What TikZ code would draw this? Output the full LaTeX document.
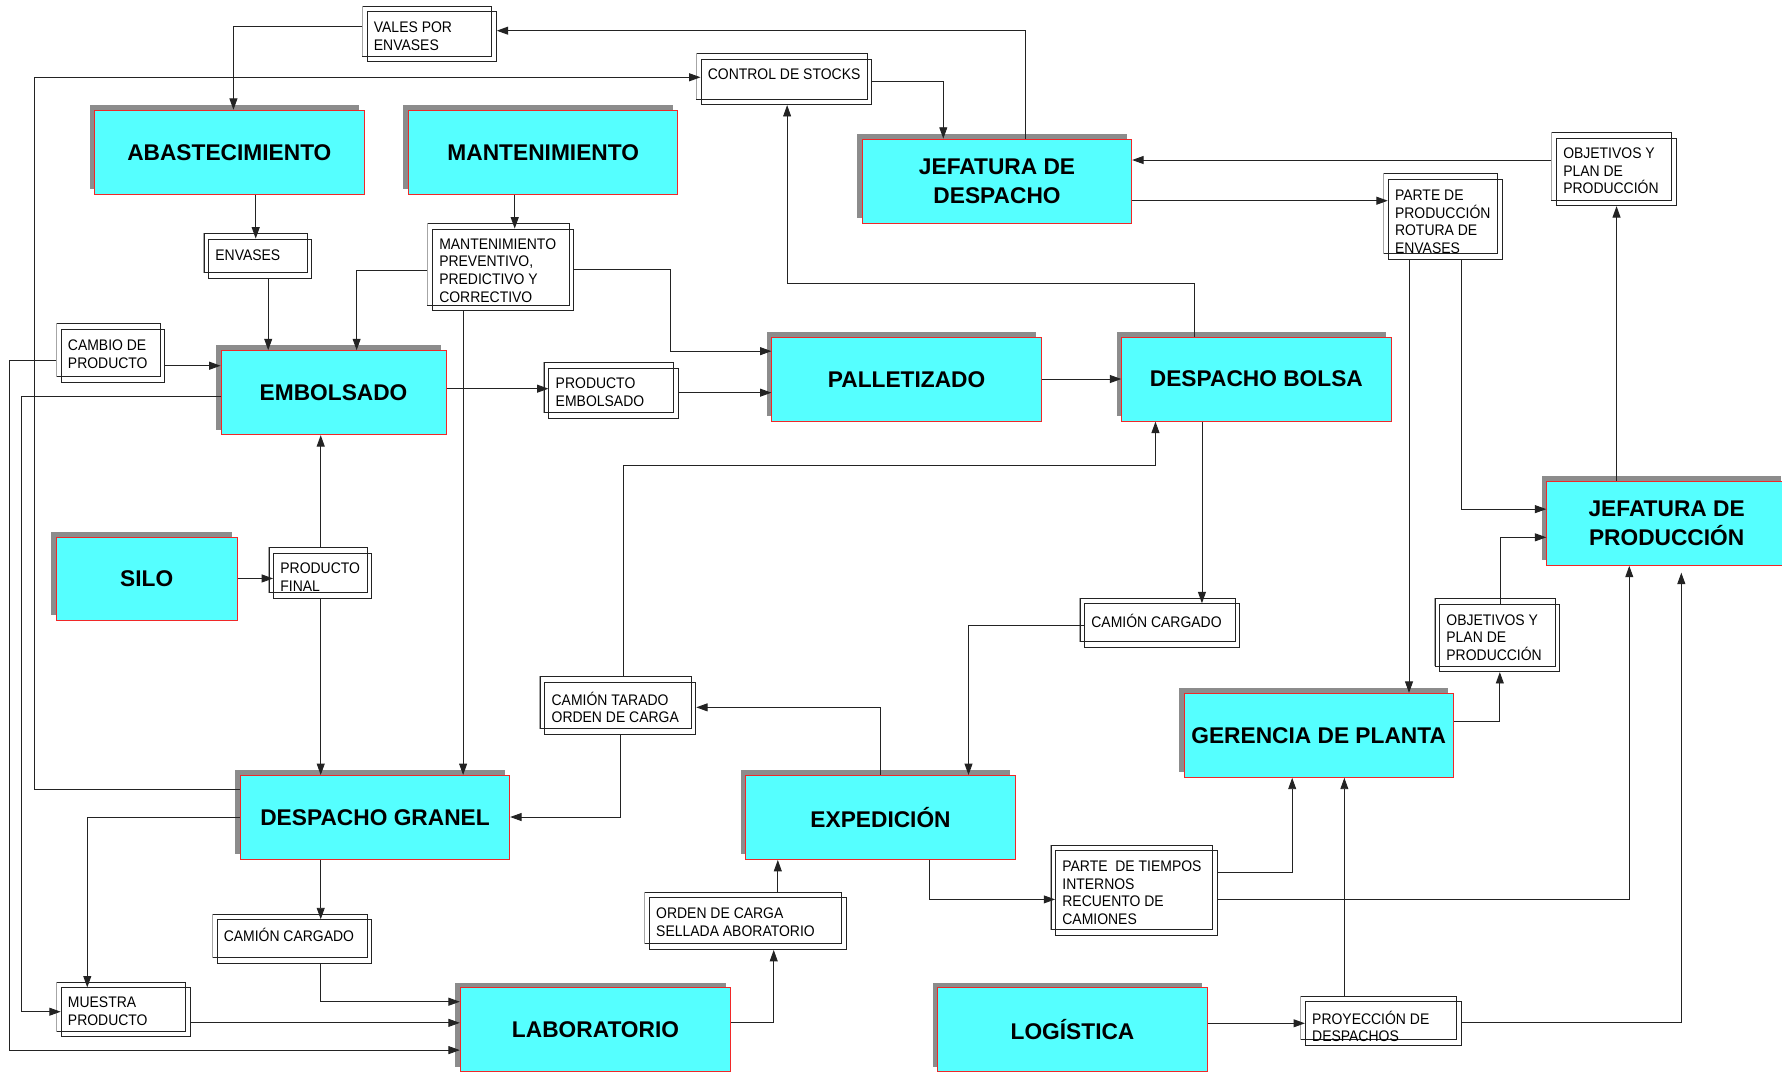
\documentclass[tikz,border=0pt]{standalone}
\usepackage{fontspec}
\setmainfont{Liberation Sans}
\newfontfamily\docfont[FakeStretch=0.91]{Liberation Sans}
\usetikzlibrary{arrows.meta,shadows,fit}

\definecolor{boxcyan}{RGB}{85,255,255}
\definecolor{boxred}{RGB}{240,40,40}
\definecolor{shadowgray}{RGB}{140,140,140}
\definecolor{wire}{RGB}{35,35,35}

\tikzset{
  unit/.style={rectangle, fill=boxcyan, draw=boxred, line width=0.8pt, inner sep=0pt,
    minimum width=237pt, minimum height=74pt, align=center,
    font=\fontsize{20}{25}\selectfont\bfseries,
    general shadow={fill=shadowgray, draw=none, shadow xshift=-4.5pt, shadow yshift=4.5pt}},
  docrect/.style={rectangle, draw=wire, line width=0.8pt, inner sep=0pt},
  doctext/.style={anchor=west, inner sep=0pt, align=left,
    font=\docfont\fontsize{13.5}{15.5}\selectfont},
  flow/.style={draw=wire, line width=0.8pt, -{Triangle[length=10pt,width=7pt]}},
}

% document box: name, back rectangle x1 y1 x2 y2, text centre y, text
\newcommand\docbox[7]{%
  \node[docrect, fit={(#2,#3) (#4,#5)}] (#1-b) {};
  \draw[black!35, line width=0.8pt] (#1-b.north west) -- (#1-b.south west);
  \node[docrect, fit={({#2+4},{#3+5}) ({#4+4},{#5+5})}] (#1) {};
  \node[doctext] (#1-t) at ({#2+9.8},#6) {#7};
}

\begin{document}
\begin{tikzpicture}[x=1pt,y=-1pt]
\path[use as bounding box] (0,0) rectangle (1568,943);
\clip (0,0) rectangle (1568,943);
\fill[white] (0,0) rectangle (1568,943);

% process units
\node[unit] (abas) at (201.8,134) {ABASTECIMIENTO};
\node[unit] (mant) at (478,134) {MANTENIMIENTO};
\node[unit] (jdes) at (877.3,159.4) {JEFATURA DE\\DESPACHO};
\node[unit, minimum width=198pt] (emb) at (293.5,345.5) {EMBOLSADO};
\node[unit] (pall) at (797.7,333.7) {PALLETIZADO};
\node[unit] (dbol) at (1105.5,333.6) {DESPACHO BOLSA};
\node[unit, minimum width=211pt] (jprod) at (1466.5,460.5) {JEFATURA DE\\PRODUCCIÓN};
\node[unit, minimum width=159pt, minimum height=73pt] (silo) at (129.1,509.3) {SILO};
\node[unit] (ger) at (1160.3,647) {GERENCIA DE PLANTA};
\node[unit] (dgran) at (330,719.3) {DESPACHO GRANEL};
\node[unit] (exp) at (774.8,719.3) {EXPEDICIÓN};
\node[unit, minimum width=238pt] (lab) at (524,906) {LABORATORIO};
\node[unit] (log) at (943.7,906) {LOGÍSTICA};

% documents
\docbox{vales}{319}{5.3}{432.7}{49.3}{32}{VALES POR\\ENVASES}
\docbox{ctrl}{612.8}{46.9}{763}{87.1}{65.6}{CONTROL DE STOCKS}
\docbox{env}{179.5}{205.3}{270.4}{239.6}{224.4}{ENVASES}
\docbox{mprev}{376.5}{196.5}{501}{268.4}{238}{MANTENIMIENTO\\PREVENTIVO,\\PREDICTIVO Y\\CORRECTIVO}
\docbox{camb}{49.8}{285}{140.8}{331.4}{311.5}{CAMBIO DE\\PRODUCTO}
\docbox{pemb}{479}{319}{592.6}{363}{345}{PRODUCTO\\EMBOLSADO}
\docbox{pprod}{1217.5}{152.5}{1317.8}{222.9}{195}{PARTE DE\\PRODUCCIÓN\\ROTURA DE\\ENVASES}
\docbox{obj1}{1365.5}{116.7}{1471}{176}{150.4}{OBJETIVOS Y\\PLAN DE\\PRODUCCIÓN}
\docbox{obj2}{1262.7}{526.5}{1368.3}{586}{561}{OBJETIVOS Y\\PLAN DE\\PRODUCCIÓN}
\docbox{ccr}{950.3}{526.2}{1086.7}{564.5}{546}{CAMIÓN CARGADO}
\docbox{ctar}{475.4}{595.3}{608.2}{641}{622.6}{CAMIÓN TARADO\\ORDEN DE CARGA}
\docbox{ptiem}{924.8}{743.5}{1067}{817.8}{785.5}{PARTE\ \ DE TIEMPOS\\INTERNOS\\RECUENTO DE\\CAMIONES}
\docbox{orden}{567.4}{784.9}{740.6}{830.5}{811.3}{ORDEN DE CARGA\\SELLADA ABORATORIO}
\docbox{proy}{1144.6}{876.4}{1281.5}{914.5}{903}{PROYECCIÓN DE\\DESPACHOS}
\docbox{pfin}{236.7}{481.8}{323.2}{521.4}{508}{PRODUCTO\\FINAL}
\docbox{ccl}{186.9}{804.2}{323.2}{842.3}{823}{CAMIÓN CARGADO}
\docbox{mues}{49.8}{864.2}{163.3}{907.4}{889.7}{MUESTRA\\PRODUCTO}

% flows
\draw[flow] (jdes.north -| 902.4,0) |- (vales.east |- 0,27);
\draw[flow] (vales-b.west |- 0,22.9) -| (abas.north -| 205.4,0);
\draw[flow] (dgran.west |- 0,694.8) -| (30.3,68) -- (ctrl.west |- 0,68);
\draw[flow] (ctrl.east |- 0,71.6) -| (jdes.north -| 830,0);
\draw[flow] (dbol.north -| 1050.6,0) |- (692.6,249.3) -- (ctrl.south -| 692.6,0);
\draw[flow] (obj1-b.west |- 0,140.8) -- (jdes.east |- 0,140.8);
\draw[flow] (jdes.east |- 0,176.6) -- (pprod.west |- 0,176.6);
\draw[flow] (pprod.south -| 1239.8,0) -- (ger.north -| 1239.8,0);
\draw[flow] (pprod.south -| 1285.5,0) |- (jprod.west |- 0,448);
\draw[flow] (jprod.north -| 1422.4,0) -- (obj1.south -| 1422.4,0);
\draw[flow] (ger.east |- 0,635) -| (obj2.south -| 1319.7,0);
\draw[flow] (obj2.north -| 1320.5,0) |- (jprod.west |- 0,472.8);

\draw[flow] (abas.south -| 225,0) -- (env.north -| 225,0);
\draw[flow] (env.south -| 236,0) -- (emb.north -| 236,0);
\draw[flow] (mant.south -| 452.9,0) -- (mprev.north -| 452.9,0);
\draw[flow] (mprev-b.west |- 0,237.6) -| (emb.north -| 313.8,0);
\draw[flow] (mprev.east |- 0,237) -| (589.6,309) -- (pall.west |- 0,309);
\draw[flow] (mprev.south -| 407.5,0) -- (dgran.north -| 407.5,0);
\draw[flow] (camb.east |- 0,321.8) -- (emb.west |- 0,321.8);
\draw[flow] (camb-b.west |- 0,316.8) -| (8.4,924) -- (lab.west |- 0,924);
\draw[flow] (emb.west |- 0,349) -| (19.2,890.2) -- (mues.west |- 0,890.2);
\draw[flow] (emb.east |- 0,342) -- (pemb.west |- 0,342);
\draw[flow] (pemb.east |- 0,345.5) -- (pall.west |- 0,345.5);
\draw[flow] (pall.east |- 0,333.5) -- (dbol.west |- 0,333.5);
\draw[flow] (silo.east |- 0,509) -- (pfin.west |- 0,509);
\draw[flow] (pfin-b.north -| 282.2,0) -- (emb.south -| 282.2,0);
\draw[flow] (pfin.south -| 282.2,0) -- (dgran.north -| 282.2,0);
\draw[flow] (dgran.south -| 282.2,0) -- (ccl.north -| 282.2,0);
\draw[flow] (ccl.south -| 282.2,0) |- (lab.west |- 0,881.4);
\draw[flow] (dgran.west |- 0,719.3) -| (mues.north -| 76.8,0);
\draw[flow] (mues.east |- 0,900) -- (lab.west |- 0,900);

\draw[flow] (dbol.south -| 1057.6,0) -- (ccr.north -| 1057.6,0);
\draw[flow] (ccr.west |- 0,550.3) -| (exp.north -| 852.2,0);
\draw[flow] (exp.north -| 774.5,0) |- (ctar.east |- 0,622.4);
\draw[flow] (ctar-b.north -| 548.4,0) |- (1016.7,409.4) -- (dbol.south -| 1016.7,0);
\draw[flow] (ctar.south -| 546.1,0) |- (dgran.east |- 0,718.9);
\draw[flow] (exp.south -| 817.9,0) |- (ptiem.west |- 0,791.4);
\draw[flow] (ptiem.east |- 0,767.6) -| (ger.south -| 1137,0);
\draw[flow] (ptiem.east |- 0,791.6) -| (jprod.south -| 1433.6,0);
\draw[flow] (orden-b.north -| 684.4,0) -- (exp.south -| 684.4,0);
\draw[flow] (lab.east |- 0,900) -| (orden.south -| 680.8,0);
\draw[flow] (log.east |- 0,900.4) -- (proy.west |- 0,900.4);
\draw[flow] (proy-b.north -| 1182.9,0) -- (ger.south -| 1182.9,0);
\draw[flow, shorten >=6pt] (proy.east |- 0,900) -| (jprod.south -| 1479.4,0);
\end{tikzpicture}
\end{document}
